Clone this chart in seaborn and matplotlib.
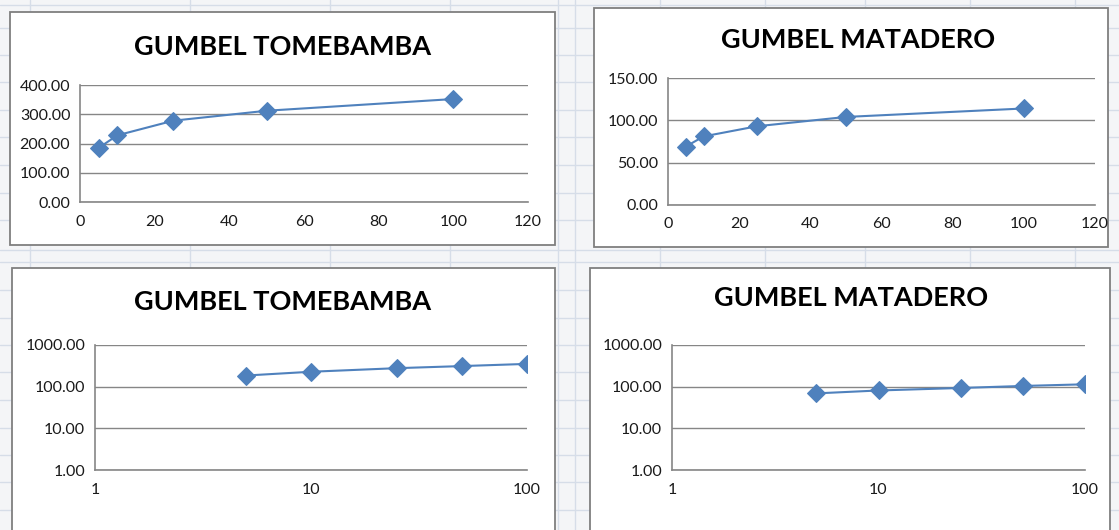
import numpy as np
import pandas as pd
import seaborn as sns
import matplotlib.pyplot as plt
from matplotlib.patches import Rectangle
from matplotlib.ticker import FixedLocator, NullLocator

# =========================
# DATA
# =========================
return_period = [5, 10, 25, 50, 100]
tomebamba = [185, 228, 278, 312, 352]
matadero = [69, 81, 93, 104, 114]

titles = ["GUMBEL TOMEBAMBA", "GUMBEL MATADERO"]

# =========================
# STYLE
# =========================
sns.set_style("white")
plt.rcParams["font.family"] = ["Lato", "DejaVu Sans"]

W, H = 1119, 530
fig = plt.figure(figsize=(W / 100, H / 100), dpi=100)
fig.patch.set_facecolor("#f4f5f7")

def fx(px):
    return px / W

def fy(py):
    return 1 - py / H

# spreadsheet cell lines behind the charts
for x in [30, 190, 330, 450, 558, 575, 660, 765, 865, 970, 1075]:
    fig.add_artist(plt.Line2D([fx(x), fx(x)], [0, 1], color="#d6dde8", lw=1, zorder=0))
for y in [5, 28, 55, 82, 110, 137, 165, 193, 220, 250, 262, 290, 318, 345, 372, 400, 428, 455, 482, 510]:
    fig.add_artist(plt.Line2D([0, 1], [fy(y), fy(y)], color="#d6dde8", lw=1, zorder=0))

# chart boxes (px: left, top, right, bottom)
boxes = [(10, 12, 555, 245), (594, 8, 1108, 247), (12, 268, 555, 534), (590, 268, 1110, 534)]
for l, t, r, b in boxes:
    fig.add_artist(Rectangle((fx(l), fy(b)), fx(r - l), (b - t) / H,
                             facecolor="white", edgecolor="#7f7f7f", lw=1.3, zorder=1))

# plot areas (px: left, top, right, bottom)
areas = [(80, 85, 528, 202), (668, 78, 1095, 205), (95, 345, 527, 470), (672, 345, 1085, 470)]
title_pos = [(283, 47), (858, 40), (283, 302), (851, 298)]

series = [tomebamba, matadero, tomebamba, matadero]
blue = "#4f81bd"

for i, ((l, t, r, b), vals) in enumerate(zip(areas, series)):
    ax = fig.add_axes([fx(l), fy(b), fx(r - l), (b - t) / H], zorder=2)
    ax.patch.set_alpha(0)
    df = pd.DataFrame({"T": return_period, "Q": vals})
    sns.lineplot(data=df, x="T", y="Q", ax=ax, color=blue, lw=1.5,
                 marker="D", markersize=9, markeredgecolor=blue, zorder=3)
    ax.set_xlabel("")
    ax.set_ylabel("")

    if i < 2:
        ax.set_xlim(0, 120)
        ax.set_xticks(range(0, 121, 20))
        if i == 0:
            ax.set_ylim(0, 400)
            ax.set_yticks(range(0, 401, 100))
        else:
            ax.set_ylim(0, 150)
            ax.set_yticks(range(0, 151, 50))
        ax.set_xticklabels([str(v) for v in range(0, 121, 20)])
    else:
        ax.set_xscale("log")
        ax.set_yscale("log")
        ax.set_xlim(1, 100)
        ax.set_ylim(1, 1000)
        ax.xaxis.set_major_locator(FixedLocator([1, 10, 100]))
        ax.xaxis.set_minor_locator(NullLocator())
        ax.yaxis.set_major_locator(FixedLocator([1, 10, 100, 1000]))
        ax.yaxis.set_minor_locator(NullLocator())
        ax.set_xticklabels(["1", "10", "100"])

    ax.set_yticklabels([f"{v:.2f}" for v in ax.get_yticks()])
    ax.grid(axis="y", color="#868686", lw=1)
    ax.grid(axis="x", visible=False)
    for side in ["top", "right"]:
        ax.spines[side].set_visible(False)
    for side in ["left", "bottom"]:
        ax.spines[side].set_color("#868686")
        ax.spines[side].set_linewidth(1.2)
    ax.tick_params(axis="both", which="major", direction="out", length=4,
                   width=1, color="#868686", labelsize=11.5, labelcolor="#1a1a1a", pad=3)
    ax.tick_params(axis="x", pad=5)

    tx, ty = title_pos[i]
    fig.text(fx(tx), fy(ty), titles[i % 2], ha="center", va="center",
             fontsize=19.5, fontweight="bold", color="black", zorder=5)

fig.savefig("out.png", dpi=100, facecolor=fig.get_facecolor())
